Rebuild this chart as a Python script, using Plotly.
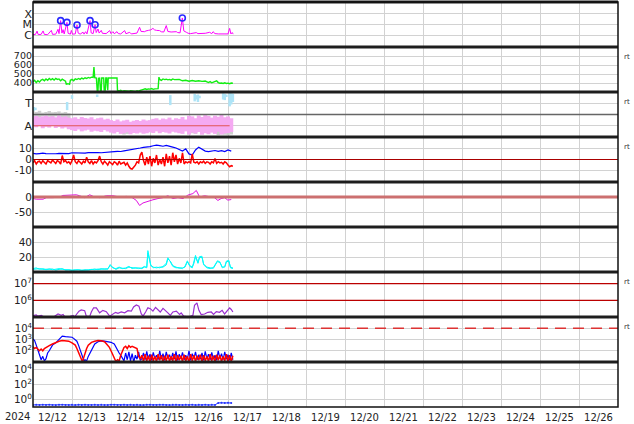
import plotly.graph_objects as go
import pandas as pd

BASE = pd.Timestamp("2024-12-12 00:00")
END = pd.Timestamp("2024-12-27 00:00")

# ---------------- data (hours after 2024-12-12 00:00) ----------------
# Panel 1: X-ray flux, log10 W/m2
xr_h = [0,1.5,2.5,3.2,5,6.2,7,9,11.3,12,14,15.4,16,17.0,17.8,18.5,19.2,20.9,21.6,23,23.6,24.3,26,27.1,27.8,29,30.8,31.4,32.4,33.2,
        35.1,35.8,37,38.2,38.9,40,40.7,42,42.7,45,47.2,48,49.2,50,51.7,52.5,54,56.4,57.2,59.5,60.5,62,64,65.6,66.5,68.7,69.5,71,72.5,73.8,
        74.8,76,77.9,79,80.5,82,83,85,87,88.2,89,90.5,91.9,92.8,94.4,95.5,97,100.5,101.5,104,106,108.7,110,110.8,112,114,116.9,118,120,121,
        121.8,122.6,123.2]
xr_v = [-5.95,-5.93,-5.62,-5.94,-5.92,-5.6,-5.93,-5.95,-5.55,-5.92,-5.9,-5.45,-5.85,-4.64,-5.8,-5.48,-5.88,-4.8,-5.82,-5.9,
        -5.55,-5.9,-5.88,-5.05,-5.8,-5.9,-5.72,-5.9,-5.67,-5.88,-4.64,-5.78,-5.85,-5.02,-5.75,-5.42,-5.8,-5.55,-5.82,-5.85,
        -5.57,-5.85,-5.67,-5.86,-5.67,-5.85,-5.88,-5.57,-5.86,-5.73,-5.88,-5.86,-5.8,-5.26,-5.65,-5.67,-5.6,-5.55,-5.5,-5.36,
        -5.5,-5.55,-5.57,-5.68,-5.7,-5.1,-5.65,-5.7,-5.68,-5.67,-5.75,-5.78,-4.39,-5.6,-5.73,-5.82,-5.85,-5.76,-5.85,-5.87,
        -5.82,-5.73,-5.85,-5.67,-5.85,-5.88,-5.89,-5.85,-5.88,-5.36,-5.88,-5.75,-5.9]
flare_h = [17.0, 20.9, 27.1, 35.1, 38.2, 91.9]
flare_v = [-4.64, -4.8, -5.05, -4.64, -5.02, -4.39]
xr_ticks = [-6, -5, -4]
xr_labels = ["C", "M", "X"]

# Panel 2: solar wind speed km/s
sw_h = [0,1,2,3,4,5,6,7,8,9,10,11,12,13,14,15,16,17,18,19,20,20.5,21.5,22.5,23,24,25,26,27,28,29,30,31,32,33,34,35,36,37,37.5,38,39,
        39.5,40,40.3,41,41.5,42,42.3,43.5,43.8,44.5,44.8,45.3,45.6,46,46.3,47,48,49,50,51,51.7,52,53,54,55,56,57,58,59,60,61,62,63,64,
        65,66,67,68,69,70,71,72,73,74,75,76,77,77.5,78,79,80,81,82,83,84,85,86,87,88,89,90,91,92,94,96,98,100,102,104,106,107,108,109,
        110,111,112,113,114,115,116,117,118,119,120,121,122,123]
sw_v = [415,430,405,425,410,432,440,425,445,430,450,435,448,432,452,440,445,425,442,430,420,388,392,385,430,440,425,445,438,450,
        440,455,445,458,450,462,455,465,462,578,460,455,318,318,452,455,320,320,455,455,322,322,455,455,320,320,455,455,452,458,455,
        452,455,318,312,318,308,315,310,313,308,315,310,312,305,315,310,318,320,330,335,328,335,332,338,330,335,340,338,465,440,430,
        445,438,442,435,440,432,445,438,440,435,440,432,425,430,420,428,420,425,418,422,410,405,415,402,410,418,425,405,398,400,395,
        402,395,398,392,400,398]
sw_ticks = [400, 500, 600, 700]

# Panel 3: IMF sector (A lower half, T upper half), degrees
pink_lo = [85,78,90,70,82,75,88,72,80,68,76,62, 55,48,60,45,52,58,42,50,46,40,55,44,
           35,28,40,25,30,38,22,32,28,35,26,30, 38,32,45,30,40,35,28,42,36,30,
           25,45,20,35,28,40,18,30,22,35,25,42,20,28,32,40]
pink_hi = [160,168,158,165,170,162,166,158,172,160,165,155, 150,158,145,160,152,148,158,142,150,155,140,146,
           135,128,140,125,132,138,122,130,136,128,140,132, 135,145,150,138,148,142,155,138,150,145,
           160,140,170,165,150,172,160,175,168,155,170,162,176,158,165,150]
gray_h = [0,2,4,6,8,10,12,14,16,18,20,22,56,58,96,98,100,114,116,118,120,122]
gray_lo = [150,160,155,165,158,162,150,165,160,158,155,150,20,25,20,30,25,15,20,18,15,20]
gray_hi = [205,200,210,195,200,208,198,200,205,195,200,190,70,65,80,70,60,60,70,55,65,60]
lb_h = [0.5,1.5,21,24,39.5,84.5,99.5,100.5,101.5,102.5,117,118,119,121,122,123]
lb_lo = [210,215,215,305,320,255,285,300,280,310,300,295,320,245,260,280]
lb_hi = [240,235,280,335,340,335,345,335,340,330,350,345,340,355,350,345]
sector_ref_h = [0, 121]
sector_ref_v = [90, 90]
sector_ticks = [90, 270]
sector_labels = ["A", "T"]

# Panel 4: IMF Bt (blue) and Bz (red), nT
bt_v = [5.5,5.0,5.3,5.6,5.2,5.0,5.4,5.1,5.5,5.3,5.6,5.2,
        6.0,5.8,6.2,6.0,5.7,6.1,6.3,5.9,6.2,6.0,6.4,6.2,
        6.8,7.0,7.3,7.1,7.6,8.0, 8.4,9.0,9.6,10.2,10.8,11.0,
        11.5,12.2,12.8,12.4,11.8,12.5,12.0, 11.0,10.2,9.0,7.5, 9.5,5.0,4.0,
        8.5,11.0,9.0,7.5, 7.0,7.5,8.0,7.2,7.8,7.0,8.5,7.5]
bz_v = [-3,-1,-4,-2,-1.5,-3.5,-1,-2.5,-4,-1,-2,-3,-0.5,-2.5,-3.5,-1,-2,-4,
        3.5,-2, -1,-3,-2,-4,-1,4,
        -2,-3.5,-1,-2.5,-4,-1.5,-3,2,-2,-3.5,-1,-4,-2,-3,-1, 3,
        -2,-4,-1.5,-3,-5,-2,-3.5,-4.5,-2,-3,-5,-1.5,-4,-3,-2.5,-5,-3,
        -6,-8,-8.5,-7,-5, -2,-3,4,6.5,
        -1,-5,2,-4,3,-6,1,-3,4,-5,0,-4,2,-6,5,-3,3,-5,6,-2,4,-4,1,
        -3,6,-4, -2,-3,
        -2,-3,5,-2.5,-3,-2,-4,-2,-3,-1.5,-3.5,-2,-2.5,-4,-2,-3,1,-3.5,-2,-3,-2.5,-4,-2,-3,
        -5,-6.5,-5.5,-6]
b_ticks = [-10, 0, 10]
b_labels = ["-10", "0", "10"]

# Panel 5: Dst, nT
dst_h = [0,2,6.2,8.2,12.3,16.4,18.5,22.6,26.7,28.7,31.8,34.9,37.9,41,45.1,49.2,53.3,57.4,60.5,63.6,65.6,67.7,70.7,73.8,
         76.9,80,83,86.1,89.2,92.3,95.3,98.4,100.5,102.5,105.6,108.7,111.7,113.8,115.8,117.9,119.9,122]
dst_v = [-5,-7,-7,-2,-2,0,5,6,7,4,-2,7,0,-2,4,4,0,2,0,-11,-27,-19,-13,-9,-5,-2,4,-5,-2,-5,6,11,21,0,4,2,-2,-11,-5,-2,-10,-8]
dst_ticks = [-50, 0]
dst_labels = ["-50", "0"]

# Panel 6: solar wind density, /cc (two sensors)
den_h = [0,2,4,6,8,10,12,14,16,18,20,22,24,26,28,30,32,34,36,38,40,42,44,46,47.5,49,51,53,55,57,59,61,63,65,67,68.5,70,70.7,
         71.5,72.5,74,76,78,80,82,83,84.5,86,88,90,92,93.5,95,96.5,98,99,100,101.5,102.5,104,105,107,109,111,112.5,113.5,115,
         116.5,118,119,120.5,121.5,123]
den_v = [5,6,4,5,3.5,4.5,3.5,4,5,4,3.5,3,3,3.5,3,3,2.8,3.5,4,3.5,4.5,4,5,4,10.5,6,5,7,5,6,8,5,6.5,5,6,8,6,29,18,10,6,7,6,8,
         12,19.5,14,8,6,6.5,5,8,15.4,8,6,14,22.7,12,21,21.5,10,6,5,6.5,12,15.5,14,6,8,15,16,6,5]
den2_v = [4,5,5,4,4,3.5,4.5,3,4,5,3,3.5,2.5,3,3.5,2.5,3.5,3,3.5,4.5,3.5,5,4,5,9,7,4,6,6,5,7,6,5.5,6,5,7,7,26,20,9,7,6,7,7,
          10,18,15,9,7,5.5,6,7,14,9,7,12,21,13,20,20,11,7,6,5.5,11,14.5,13,7,7,14,15,7,6]
den_ticks = [20, 40]

# Panel 7: log10 of proton-related quantity
pp_h = [0,2,3,5.1,6.2,8,10,12,13.3,15.4,17.4,18.5,19.5,22.6,24.6,25.6,26.7,28.3,29.7,31.8,32.8,34.9,35.9,37.3,39,40,41,43,
        45.1,47.2,49.2,50.8,52.3,54.3,56.4,58.4,60.5,61.9,63.6,65.2,66.6,67.7,69.3,70.7,72.2,73.8,75.4,76.9,78.3,80,81.6,83,84.5,
        86.1,88.2,90.2,91.2,92.7,94.3,96.4,98.4,99.4,100.9,102.1,103.5,105.6,107.6,109.7,111.1,112.8,114.8,116.4,117.9,119.3,121,
        122,123]
pp_v = [5.08,5.12,5.05,5.1,5.03,4.98,4.98,4.99,5.05,5.18,5.1,5.15,5.02,5.03,5.1,5.0,5.15,5.35,5.42,5.38,5.05,5.03,5.3,5.55,
        5.55,5.35,5.25,5.4,5.32,5.05,5.2,5.28,5.22,5.3,5.25,5.38,5.35,5.6,5.72,5.65,5.2,5.05,5.3,5.55,5.5,5.35,5.58,5.45,5.3,
        5.52,5.4,5.25,5.1,5.3,5.35,5.15,5.25,5.05,5.02,5.03,5.1,5.7,5.85,5.4,5.15,5.18,5.28,5.3,5.15,5.32,5.28,5.4,5.18,5.32,
        5.55,5.45,5.3]
pp_ref = [6, 7]
pp_ticks = [6, 7]

# Panel 8: log10 electron flux, two satellites
eb_h = [0,1,2,3,4,5,6,7,8,9,10,11,12,14,16,17,18,20,22,24,25,26,27,28,29,30,31,31.5,32,33,34,35,36,38,40,42,44,46,48,50,
        51,52,53,54,55,56,57,58,59,60,61,62,63,64,65,66]
eb_v = [3.05,2.9,2.5,2.0,1.6,1.2,1.5,1.1,1.3,1.8,2.0,2.3,2.5,2.7,3.0,3.15,3.3,3.25,3.2,3.2,3.1,2.95,2.85,2.5,2.1,1.7,1.3,
        1.05,1.2,1.1,1.5,1.75,2.0,2.6,2.8,2.87,2.85,2.8,2.75,2.6,2.3,2.0,1.8,1.6,1.3,1.1,1.8,1.2,1.9,1.1,1.75,1.0,1.6,1.25,
        1.9,1.15]
eb_noise = [1.3,1.8,1.2,1.95,1.25,1.7,1.15,1.85,1.3,1.6,1.2,2.0,1.25,1.75,1.15,1.9,1.3,1.65,1.2,1.8,1.25,1.95,1.15,1.7,
            1.3,1.85,1.2,1.6,1.25,2.0,1.15,1.75,1.3,1.9,1.2,1.65,1.25,1.8,1.15,1.95,1.3,1.7,1.2,1.85,1.25,1.6,1.15,2.0,1.3,
            1.75,1.2,1.9,1.25,1.65,1.15,1.8,1.2]
er_h = [0,1,2,3,4,5,6,7,8,10,12,14,16,18,20,22,24,26,27,28,29,30,30.5,31,32,33,34,35,36,38,40,42,44,45,46,47,48,49,50,
        51,52,53,54,55,56,57,58,59,60,61,62,63,64,65,66]
er_v = [2.35,2.2,2.3,2.1,2.0,2.15,2.0,2.2,2.3,2.45,2.6,2.75,2.85,2.9,2.9,2.85,2.7,2.5,2.2,1.9,1.5,1.2,1.0,1.3,1.8,2.2,
        2.5,2.65,2.75,2.85,2.9,2.88,2.8,2.65,2.5,2.3,2.0,1.7,1.3,1.05,1.2,1.1,1.6,2.0,2.3,2.4,2.2,2.45,2.3,2.4,2.35,2.3,
        2.2,1.5,1.3]
er_noise = [1.6,1.05,1.7,1.1,1.55,1.0,1.65,1.1,1.5,1.05,1.7,1.15,1.6,1.0,1.55,1.1,1.65,1.05,1.5,1.1,1.7,1.0,1.6,1.15,
            1.55,1.05,1.65,1.1,1.5,1.0,1.7,1.1,1.6,1.05,1.55,1.15,1.65,1.0,1.6,1.1,1.5,1.05,1.7,1.1,1.55,1.0,1.65,1.15,
            1.6,1.05,1.5,1.1,1.7,1.0,1.6,1.05,1.55]
noise_start_h = 67
e_ref = 4
e_ticks = [2, 3, 4]

# Panel 9: log10 high-energy flux
p9_v = [-0.72,-0.7,-0.74,-0.71,-0.73,-0.7,-0.72,-0.75,-0.71,-0.7,-0.73,-0.72,-0.7,-0.74,-0.71,-0.72,-0.7,-0.73,-0.72,
        -0.71,-0.74,-0.7,-0.72,-0.73,-0.7,-0.71,-0.72,-0.74,-0.7,-0.72,-0.71,-0.73,-0.7,-0.72,-0.74,-0.71,-0.7,-0.72,
        -0.73,-0.71,-0.7,-0.72,-0.74,-0.7,-0.71,-0.72,-0.73,-0.7,-0.72,-0.71,-0.74,-0.7,-0.72,-0.71,-0.73,-0.7,-0.72,
        -0.45,-0.43,-0.47,-0.44,-0.46]
p9_ticks = [0, 2, 4]

# ---------------- helpers ----------------
def T(hours):
    return [BASE + pd.Timedelta(hours=float(h)) for h in hours]

def segs(hours, lo, hi):
    xs, ys = [], []
    for t, a, b in zip(T(hours), lo, hi):
        xs += [t, t, None]
        ys += [a, b, None]
    return xs, ys

def sup(n):
    return "10<sup>%d</sup>" % n

def ax(i):
    return "" if i == 1 else str(i)

fig = go.Figure()

def add(i, **kw):
    fig.add_trace(go.Scatter(xaxis="x" + ax(i), yaxis="y" + ax(i), showlegend=False, hoverinfo="skip", **kw))

# Panel 1
add(1, x=T(xr_h), y=xr_v, mode="lines", line=dict(color="#ff00ff", width=1))
add(1, x=T(flare_h), y=flare_v, mode="markers",
    marker=dict(symbol="circle-open", color="#2a2aff", size=6, line=dict(width=1.6)))
# Panel 2
add(2, x=T(sw_h), y=sw_v, mode="lines", line=dict(color="#11ee11", width=1.4))
# Panel 3
gx, gy = segs(gray_h, gray_lo, gray_hi)
add(3, x=gx, y=gy, mode="lines", line=dict(color="#cfcfcf", width=3.5))
px_, py_ = segs(list(range(0, 2 * len(pink_lo), 2)), pink_lo, pink_hi)
add(3, x=px_, y=py_, mode="lines", line=dict(color="#f5aaf2", width=4))
lx, ly = segs(lb_h, lb_lo, lb_hi)
add(3, x=lx, y=ly, mode="lines", line=dict(color="#aee4f7", width=2.5))
add(3, x=T(sector_ref_h), y=sector_ref_v, mode="lines", line=dict(color="#e05555", width=1))
# Panel 4
add(4, x=T(list(range(0, 2 * len(bt_v), 2))), y=bt_v, mode="lines", line=dict(color="#0000ff", width=1.2))
add(4, x=T(list(range(len(bz_v)))), y=bz_v, mode="lines", line=dict(color="#ff0000", width=1.5))
# Panel 5
add(5, x=T(dst_h), y=dst_v, mode="lines", line=dict(color="#e010e0", width=1))
# Panel 6
add(6, x=T(den_h), y=den2_v, mode="lines", line=dict(color="#00eeee", width=1))
add(6, x=T(den_h), y=den_v, mode="lines", line=dict(color="#00ffff", width=1))
# Panel 7
add(7, x=T(pp_h), y=pp_v, mode="lines", line=dict(color="#9a30d0", width=1.2))
# Panel 8
nh = list(range(noise_start_h, noise_start_h + len(eb_noise)))
add(8, x=T(eb_h + nh), y=eb_v + eb_noise, mode="lines", line=dict(color="#0000ff", width=1.2))
nh2 = list(range(noise_start_h, noise_start_h + len(er_noise)))
add(8, x=T(er_h + nh2), y=er_v + er_noise, mode="lines", line=dict(color="#ff0000", width=1.5))
# Panel 9
add(9, x=T(list(range(0, 2 * len(p9_v), 2))), y=p9_v, mode="lines+markers",
    line=dict(color="#2233ff", width=1), marker=dict(color="#2233ff", size=2))

# ---------------- axes ----------------
grid = "#d2d2d2"
yspec = {
    1: dict(range=[-7.1, -2.9], tickvals=xr_ticks, ticktext=xr_labels),
    2: dict(range=[300, 800], tickvals=sw_ticks, ticktext=[str(v) for v in sw_ticks]),
    3: dict(range=[0, 360], tickvals=sector_ticks, ticktext=sector_labels),
    4: dict(range=[-20, 20], tickvals=b_ticks, ticktext=b_labels),
    5: dict(range=[-96, 48], tickvals=dst_ticks, ticktext=dst_labels),
    6: dict(range=[0.5, 60.5], tickvals=den_ticks, ticktext=[str(v) for v in den_ticks]),
    7: dict(range=[5, 7.7], tickvals=pp_ticks, ticktext=[sup(v) for v in pp_ticks]),
    8: dict(range=[1, 5], tickvals=e_ticks, ticktext=[sup(v) for v in e_ticks]),
    9: dict(range=[-1, 5], tickvals=p9_ticks, ticktext=[sup(v) for v in p9_ticks]),
}
yfont = {1: 11, 2: 9.5, 3: 11, 4: 10.5, 5: 10.5, 6: 10.5, 7: 10.5, 8: 10, 9: 10.5}
lay = {}
for i in range(1, 10):
    top = 1 - (i - 1) / 9
    bot = 1 - i / 9
    lay["xaxis" + ax(i)] = dict(domain=[0, 1], anchor="y" + ax(i), type="date", range=[BASE, END],
                                showgrid=True, gridcolor=grid, gridwidth=1, tick0=BASE, dtick=86400000,
                                ticks="", showticklabels=(i == 9), ticklabelmode="period", tickformat="%m/%d",
                                ticklabelstandoff=3, zeroline=False, showline=False, automargin=False,
                                fixedrange=True, tickfont=dict(size=10, color="#222"))
    lay["yaxis" + ax(i)] = dict(domain=[bot, top], anchor="x" + ax(i), showgrid=True, gridcolor=grid,
                                zeroline=False, showline=False, ticks="", tickmode="array", automargin=False,
                                fixedrange=True, tickfont=dict(size=yfont[i], color="#222"), **yspec[i])

shapes = []
def hline(yref, y, color, width, dash="solid"):
    shapes.append(dict(type="line", xref="paper", x0=0, x1=1, yref=yref, y0=y, y1=y,
                       line=dict(color=color, width=width, dash=dash), layer="above"))

hline("y3", 180, "#666666", 1.3)
hline("y4", 0, "#aa0000", 1.2)
hline("y5", 0, "#cc7070", 3)
for v in pp_ref:
    hline("y7", v, "#bb0000", 1.2)
hline("y8", e_ref, "#dd3333", 1.6, dash="11px,7px")
for k in range(1, 9):
    hline("paper", k / 9, "#1e1e1e", 3)
hline("paper", 1, "#1e1e1e", 3)
shapes.append(dict(type="rect", xref="paper", yref="paper", x0=0, x1=1, y0=0, y1=1,
                   line=dict(color="#111", width=1.5), layer="above"))

annotations = [dict(text="2024", xref="paper", yref="paper", x=0, y=0, xanchor="right", yanchor="top",
                    xshift=-1, yshift=-2, showarrow=False, font=dict(size=10, color="#222"))]
for p in [2, 3, 4, 7, 8]:
    annotations.append(dict(text="rt", xref="paper", yref="paper", x=1, y=1 - (p - 1) / 9, xanchor="left",
                            yanchor="middle", xshift=4, yshift=-10, showarrow=False,
                            font=dict(size=7, color="#333")))

fig.update_layout(width=634, height=424, margin=dict(l=33, r=16, t=2, b=17, autoexpand=False),
                  paper_bgcolor="white", plot_bgcolor="white", showlegend=False,
                  font=dict(family="DejaVu Sans", size=10, color="#222"),
                  shapes=shapes, annotations=annotations, **lay)

fig.write_html("out.html", config={"displayModeBar": False, "staticPlot": True},
               post_script="document.body.style.margin='0';")
